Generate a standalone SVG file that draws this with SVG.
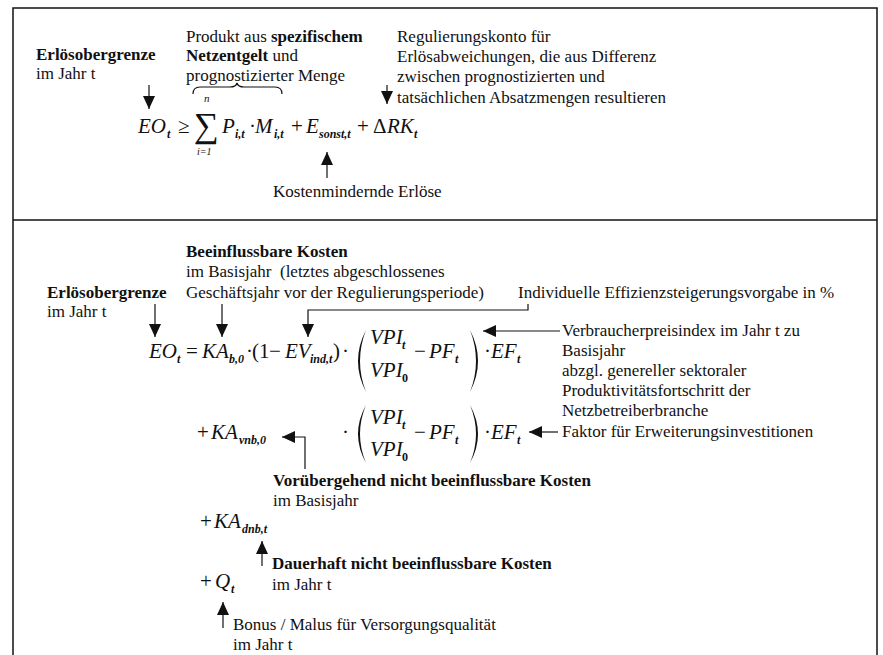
<svg xmlns="http://www.w3.org/2000/svg" width="883" height="655" viewBox="0 0 883 655">
<style>
.t{font-family:"Liberation Serif","DejaVu Serif","Times New Roman",serif;font-size:17px;fill:#111}
.b{font-weight:bold}
.m{font-family:"Liberation Serif","DejaVu Serif","Times New Roman",serif;font-style:italic;font-size:21px;fill:#111}
.s{font-size:12px;font-weight:bold;font-style:italic}
.u{font-style:normal}
.c{stroke:#111;stroke-width:1.2;fill:none}
.f{stroke:#111;stroke-width:1.5;fill:none}
.p{fill:#111;stroke:none}
</style>
<defs>
<marker id="ah" viewBox="0 0 13 12" refX="13" refY="6" markerWidth="13" markerHeight="12" markerUnits="userSpaceOnUse" orient="auto">
<path d="M0,0 L13,6 L0,12 Z" fill="#111"/>
</marker>
</defs>
<rect width="883" height="655" fill="#fff"/>
<g id="frame">
<path class="f" d="M13,655 V8 H877 V655" stroke-width="2"/>
<line class="f" x1="13" y1="220" x2="877" y2="220"/>
</g>
<g id="n-erloes1">
<text class="t b" x="36" y="60">Erlösobergrenze</text>
<text class="t" x="36" y="79">im Jahr t</text>
</g>
<g id="n-produkt">
<text class="t" x="186" y="42">Produkt aus <tspan class="b">spezifischem</tspan></text>
<text class="t" x="186" y="61"><tspan class="b">Netzentgelt</tspan> und</text>
<text class="t" x="186" y="81">prognostizierter Menge</text>
<path class="c" d="M193,94 Q193,87 200,87 L230,87 Q236,87 237,83 Q238,87 244,87 L275,87 Q282,87 282,94" stroke-width="1.4"/>
</g>
<g id="n-regkonto">
<text class="t" x="397" y="42">Regulierungskonto für</text>
<text class="t" x="397" y="62">Erlösabweichungen, die aus Differenz</text>
<text class="t" x="397" y="82">zwischen prognostizierten und</text>
<text class="t" x="397" y="103">tatsächlichen Absatzmengen resultieren</text>
</g>
<g id="n-formula1">
<text class="m" y="133"><tspan x="138">EO</tspan><tspan class="s" x="167" y="138">t</tspan><tspan class="u" x="178" y="133">≥</tspan><tspan class="u" x="194" y="137" style="font-size:35px">∑</tspan><tspan x="222" y="133">P</tspan><tspan class="s" x="235" y="138">i,t</tspan><tspan class="u" x="249" y="133">·</tspan><tspan x="255" y="133">M</tspan><tspan class="s" x="274" y="138">i,t</tspan><tspan class="u" x="291" y="133">+</tspan><tspan x="306" y="133">E</tspan><tspan class="s" x="319" y="138">sonst,t</tspan><tspan class="u" x="357" y="133">+</tspan><tspan class="u" x="373" y="133">Δ</tspan><tspan x="387" y="133">RK</tspan><tspan class="s" x="414" y="138">t</tspan></text>
<text class="m" x="204" y="102" style="font-size:11px">n</text>
<text class="m" x="197" y="155" style="font-size:10px">i=1</text>
</g>
<g id="n-kostenmind">
<text class="t" x="273" y="197">Kostenmindernde Erlöse</text>
</g>
<g id="n-beeinfl">
<text class="t b" x="186" y="257">Beeinflussbare Kosten</text>
<text class="t" x="186" y="277" xml:space="preserve">im Basisjahr  (letztes abgeschlossenes</text>
<text class="t" x="186" y="298">Geschäftsjahr vor der Regulierungsperiode)</text>
</g>
<g id="n-erloes2">
<text class="t b" x="47" y="298">Erlösobergrenze</text>
<text class="t" x="47" y="317">im Jahr t</text>
</g>
<g id="n-indiv">
<text class="t" x="518" y="298">Individuelle Effizienzsteigerungsvorgabe in %</text>
</g>
<g id="n-formula2">
<text class="m" y="358"><tspan x="149">EO</tspan><tspan class="s" x="177" y="363">t</tspan><tspan class="u" x="186" y="358">=</tspan><tspan x="202" y="358">KA</tspan><tspan class="s" x="229" y="363">b,0</tspan><tspan class="u" x="246" y="358">·</tspan><tspan class="u" x="252" y="358">(1</tspan><tspan class="u" x="269" y="358">−</tspan><tspan x="285" y="358">EV</tspan><tspan class="s" x="310" y="363">ind,t</tspan><tspan class="u" x="333" y="358">)</tspan><tspan class="u" x="342" y="358">·</tspan><tspan class="u" x="414" y="358">−</tspan><tspan x="429" y="358">PF</tspan><tspan class="s" x="455" y="363">t</tspan><tspan class="u" x="484" y="358">·</tspan><tspan x="491" y="358">EF</tspan><tspan class="s" x="517" y="363">t</tspan></text>
<text class="m" y="344"><tspan x="370">VPI</tspan><tspan class="s" x="402" y="349">t</tspan></text>
<text class="m" y="377"><tspan x="370">VPI</tspan><tspan class="s u" x="402" y="382">0</tspan></text>
<path class="p" d="M366,330 Q350,361 366,392 Q354,361 366,330 Z"/>
<path class="p" d="M470,330 Q486,361 470,392 Q482,361 470,330 Z"/>
<text class="m" y="439"><tspan class="u" x="342">·</tspan><tspan class="u" x="414" y="439">−</tspan><tspan x="429" y="439">PF</tspan><tspan class="s" x="455" y="444">t</tspan><tspan class="u" x="484" y="439">·</tspan><tspan x="491" y="439">EF</tspan><tspan class="s" x="517" y="444">t</tspan></text>
<text class="m" y="424"><tspan x="370">VPI</tspan><tspan class="s" x="402" y="429">t</tspan></text>
<text class="m" y="456"><tspan x="370">VPI</tspan><tspan class="s u" x="402" y="461">0</tspan></text>
<path class="p" d="M366,405 Q350,434 366,463 Q354,434 366,405 Z"/>
<path class="p" d="M470,405 Q486,434 470,463 Q482,434 470,405 Z"/>
</g>
<g id="n-vpi">
<text class="t" x="562" y="336">Verbraucherpreisindex im Jahr t zu</text>
<text class="t" x="562" y="356">Basisjahr</text>
<text class="t" x="562" y="376">abzgl. genereller sektoraler</text>
<text class="t" x="562" y="396">Produktivitätsfortschritt der</text>
<text class="t" x="562" y="416">Netzbetreiberbranche</text>
</g>
<g id="n-faktor">
<text class="t" x="562" y="437">Faktor für Erweiterungsinvestitionen</text>
</g>
<g id="n-vnb">
<text class="m" y="439"><tspan class="u" x="197">+</tspan><tspan x="211" y="439">KA</tspan><tspan class="s" x="239" y="444">vnb,0</tspan></text>
</g>
<g id="n-vnb-label">
<text class="t b" x="273" y="486">Vorübergehend nicht beeinflussbare Kosten</text>
<text class="t" x="273" y="506">im Basisjahr</text>
</g>
<g id="n-dnb">
<text class="m" y="528"><tspan class="u" x="200">+</tspan><tspan x="214" y="528">KA</tspan><tspan class="s" x="242" y="533">dnb,t</tspan></text>
</g>
<g id="n-dnb-label">
<text class="t b" x="272" y="569">Dauerhaft nicht beeinflussbare Kosten</text>
<text class="t" x="272" y="590">im Jahr t</text>
</g>
<g id="n-q">
<text class="m" y="588"><tspan class="u" x="200">+</tspan><tspan x="215" y="588">Q</tspan><tspan class="s" x="231" y="593">t</tspan></text>
</g>
<g id="n-q-label">
<text class="t" x="233" y="630">Bonus / Malus für Versorgungsqualität</text>
<text class="t" x="233" y="650">im Jahr t</text>
</g>
<g id="connectors">
<path class="c" d="M149,85 V109" marker-end="url(#ah)"/>
<path class="c" d="M387,85 V104" marker-end="url(#ah)"/>
<path class="c" d="M327,178 V152" marker-end="url(#ah)"/>
<path class="c" d="M155,304 V337" marker-end="url(#ah)"/>
<path class="c" d="M222,304 V337" marker-end="url(#ah)"/>
<path class="c" d="M528,304 V310 H308 V337" marker-end="url(#ah)"/>
<path class="c" d="M560,331 H483" marker-end="url(#ah)"/>
<path class="c" d="M558,432 H529" marker-end="url(#ah)"/>
<path class="c" d="M305,469 V437 H282" marker-end="url(#ah)"/>
<path class="c" d="M262,566 V541" marker-end="url(#ah)"/>
<path class="c" d="M223,628 V602" marker-end="url(#ah)"/>
</g>
</svg>
